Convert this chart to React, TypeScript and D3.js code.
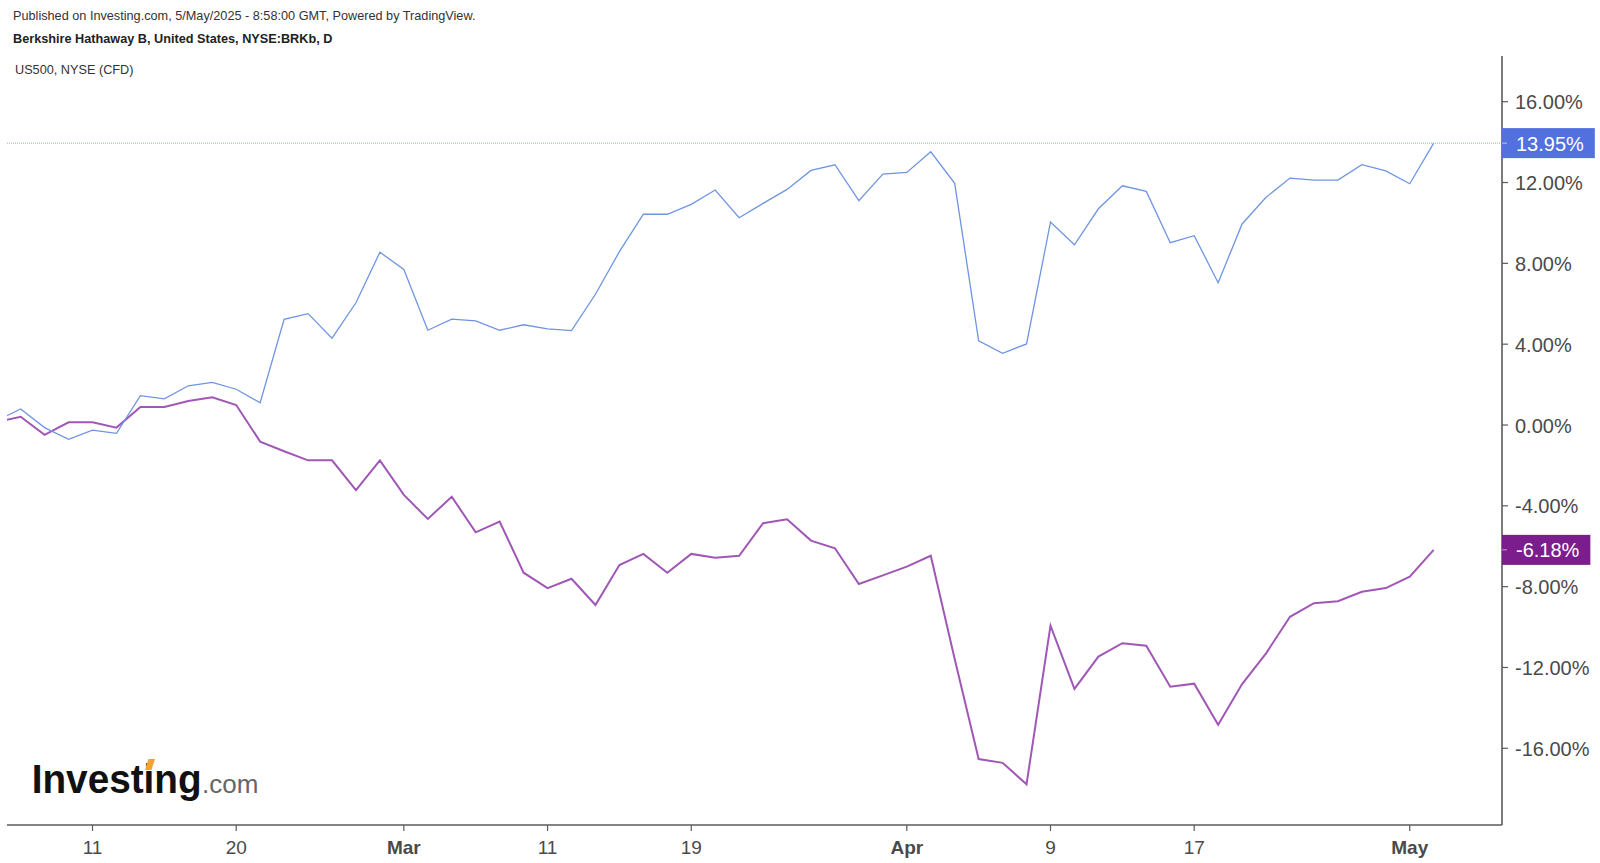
import React from "react";
import * as d3 from "d3";

const tradingDays = [
  "Feb 5", "Feb 6", "Feb 7", "Feb 10", "Feb 11", "Feb 12", "Feb 13", "Feb 14", "Feb 18", "Feb 19",
  "Feb 20", "Feb 21", "Feb 24", "Feb 25", "Feb 26", "Feb 27", "Feb 28", "Mar 3", "Mar 4", "Mar 5",
  "Mar 6", "Mar 7", "Mar 10", "Mar 11", "Mar 12", "Mar 13", "Mar 14", "Mar 17", "Mar 18", "Mar 19",
  "Mar 20", "Mar 21", "Mar 24", "Mar 25", "Mar 26", "Mar 27", "Mar 28", "Mar 31", "Apr 1", "Apr 2",
  "Apr 3", "Apr 4", "Apr 7", "Apr 8", "Apr 9", "Apr 10", "Apr 11", "Apr 14", "Apr 15", "Apr 16",
  "Apr 17", "Apr 21", "Apr 22", "Apr 23", "Apr 24", "Apr 25", "Apr 28", "Apr 29", "Apr 30", "May 1",
  "May 2",
];

// Berkshire Hathaway B, % change
const brkValues = [
  0.22, 0.79, -0.13, -0.71, -0.25, -0.41, 1.45, 1.29, 1.94, 2.11,
  1.77, 1.10, 5.23, 5.51, 4.30, 6.05, 8.55, 7.70, 4.69, 5.24,
  5.15, 4.69, 4.96, 4.76, 4.67, 6.47, 8.58, 10.43, 10.43, 10.92,
  11.63, 10.26, 10.97, 11.66, 12.60, 12.88, 11.10, 12.42, 12.50, 13.52,
  11.96, 4.17, 3.55, 4.01, 10.04, 8.92, 10.70, 11.84, 11.56, 9.02,
  9.37, 7.04, 9.95, 11.27, 12.22, 12.12, 12.12, 12.88, 12.58, 11.94,
  13.95,
];

// US500 (CFD), % change
const us500Values = [
  0.14, 0.41, -0.49, 0.13, 0.13, -0.13, 0.89, 0.89, 1.19, 1.37,
  0.99, -0.82, -1.30, -1.75, -1.75, -3.22, -1.75, -3.46, -4.65, -3.55,
  -5.31, -4.78, -7.31, -8.07, -7.61, -8.91, -6.93, -6.38, -7.31, -6.38,
  -6.57, -6.47, -4.86, -4.67, -5.72, -6.10, -7.87, -7.44, -7.01, -6.47,
  -11.58, -16.53, -16.72, -17.78, -9.93, -13.06, -11.46, -10.80, -10.92, -12.95,
  -12.80, -14.84, -12.82, -11.30, -9.49, -8.82, -8.72, -8.25, -8.07, -7.51,
  -6.18,
];

const xTickDays = ["Feb 11", "Feb 20", "Mar 3", "Mar 11", "Mar 19", "Apr 1", "Apr 9", "Apr 17", "May 1"];
const xTickLabels = ["11", "20", "Mar", "11", "19", "Apr", "9", "17", "May"];
const xTickBold = [false, false, true, false, false, true, false, false, true];

const yTickValues = [-16, -12, -8, -4, 0, 4, 8, 12, 16];

const W = 1600;
const H = 863;
const PLOT_LEFT = 7;
const PLOT_RIGHT = 1502;
const PLOT_TOP = 56;
const PLOT_BOTTOM = 825;

const FONT = "Arial, 'Liberation Sans', Helvetica, sans-serif";
const AXIS_COLOR = "#5b5b5b";
const TEXT_COLOR = "#4a4a4a";
const BLUE = "#6f95e2";
const BLUE_LABEL = "#5270de";
const PURPLE = "#a057b6";
const PURPLE_LABEL = "#7b1d8c";

const charW: Record<string, number> = { "-": 0.333, ".": 0.278, "%": 0.889 };
function textWidth(s: string, size: number) {
  let w = 0;
  for (const c of s) w += charW[c] !== undefined ? charW[c] : 0.556;
  return w * size;
}

const locale = d3.formatLocale({ decimal: ".", thousands: ",", grouping: [3], currency: ["$", ""], minus: "-" });
const fmt2 = locale.format(".2f");

export default function App() {
  const x = d3.scaleLinear().domain([0, tradingDays.length - 1]).range([-3.3, 1433.7]);
  const y = d3.scaleLinear().domain([-16, 16]).range([748.3, 101.7]);

  const line = d3
    .line<number>()
    .x((_, i) => x(i))
    .y((d) => y(d));

  const fmt = (v: number) => fmt2(v) + "%";

  const lastBrk = brkValues[brkValues.length - 1];
  const lastUs = us500Values[us500Values.length - 1];

  const labels = [
    { v: lastBrk, color: BLUE_LABEL },
    { v: lastUs, color: PURPLE_LABEL },
  ];

  return (
    <svg
      width={W}
      height={H}
      style={{ position: "absolute", left: 0, top: 0, background: "#fff" }}
      fontFamily={FONT}
    >
      <defs>
        <clipPath id="plotClip">
          <rect x={PLOT_LEFT} y={PLOT_TOP} width={PLOT_RIGHT - PLOT_LEFT} height={PLOT_BOTTOM - PLOT_TOP} />
        </clipPath>
      </defs>
      <rect x={0} y={0} width={W} height={H} fill="#fff" />

      {/* header */}
      <text x={13} y={20.3} fontSize={12.7} fill="#333">
        Published on Investing.com, 5/May/2025 - 8:58:00 GMT, Powered by TradingView.
      </text>
      <text x={13} y={42.8} fontSize={12.7} fontWeight="bold" fill="#222">
        Berkshire Hathaway B, United States, NYSE:BRKb, D
      </text>
      <text x={15} y={74.3} fontSize={12.7} fill="#333">
        US500, NYSE (CFD)
      </text>

      {/* last value dotted line */}
      <line
        x1={PLOT_LEFT}
        x2={PLOT_RIGHT}
        y1={y(lastBrk)}
        y2={y(lastBrk)}
        stroke="#8ba6ee"
        strokeWidth={1}
        strokeDasharray="1,1"
      />

      {/* series */}
      <g clipPath="url(#plotClip)">
        <path d={line(us500Values) || ""} fill="none" stroke={PURPLE} strokeWidth={2} strokeLinejoin="miter" />
        <path d={line(brkValues) || ""} fill="none" stroke={BLUE} strokeWidth={1.3} strokeLinejoin="miter" />
      </g>

      {/* axes */}
      <line x1={PLOT_LEFT} x2={PLOT_RIGHT} y1={PLOT_BOTTOM} y2={PLOT_BOTTOM} stroke={AXIS_COLOR} strokeWidth={1.6} />
      <line x1={PLOT_RIGHT} x2={PLOT_RIGHT} y1={PLOT_TOP} y2={PLOT_BOTTOM} stroke={AXIS_COLOR} strokeWidth={1.6} />

      {yTickValues.map((v) => (
        <g key={"y" + v}>
          <line x1={PLOT_RIGHT} x2={PLOT_RIGHT + 6} y1={y(v)} y2={y(v)} stroke={AXIS_COLOR} strokeWidth={1.2} />
          <text x={1515} y={y(v) + 7.5} fontSize={20} fill={TEXT_COLOR}>
            {fmt(v)}
          </text>
        </g>
      ))}

      {xTickDays.map((d, k) => {
        const i = tradingDays.indexOf(d);
        const px = x(i);
        return (
          <g key={"x" + k}>
            <line x1={px} x2={px} y1={PLOT_BOTTOM} y2={PLOT_BOTTOM + 6} stroke={AXIS_COLOR} strokeWidth={1.2} />
            <text
              x={px}
              y={853.5}
              fontSize={19}
              textAnchor="middle"
              fontWeight={xTickBold[k] ? "bold" : "normal"}
              fill={TEXT_COLOR}
            >
              {xTickLabels[k]}
            </text>
          </g>
        );
      })}

      {/* last value labels */}
      {labels.map((l, k) => {
        const cy = y(l.v);
        const t = fmt(l.v);
        const w = 14 + textWidth(t, 20) + 11;
        return (
          <g key={"lab" + k}>
            <rect x={PLOT_RIGHT} y={cy - 15} width={w} height={30} fill={l.color} />
            <line x1={PLOT_RIGHT} x2={PLOT_RIGHT + 5} y1={cy} y2={cy} stroke="#ffffff" strokeOpacity={0.6} strokeWidth={1} />
            <text x={PLOT_RIGHT + 14} y={cy + 7.5} fontSize={20} fill="#fff">
              {t}
            </text>
          </g>
        );
      })}

      {/* logo */}
      <text x={31.7} y={792.7} fontSize={40} fontWeight="bold" fill="#111" textLength={170} lengthAdjust="spacingAndGlyphs">
        Investing
      </text>
      <polygon points="145,770 148.5,759 155,759 151.5,770" fill="#f2a332" />
      <text x={202} y={792.7} fontSize={26} fill="#666">
        .com
      </text>
    </svg>
  );
}
